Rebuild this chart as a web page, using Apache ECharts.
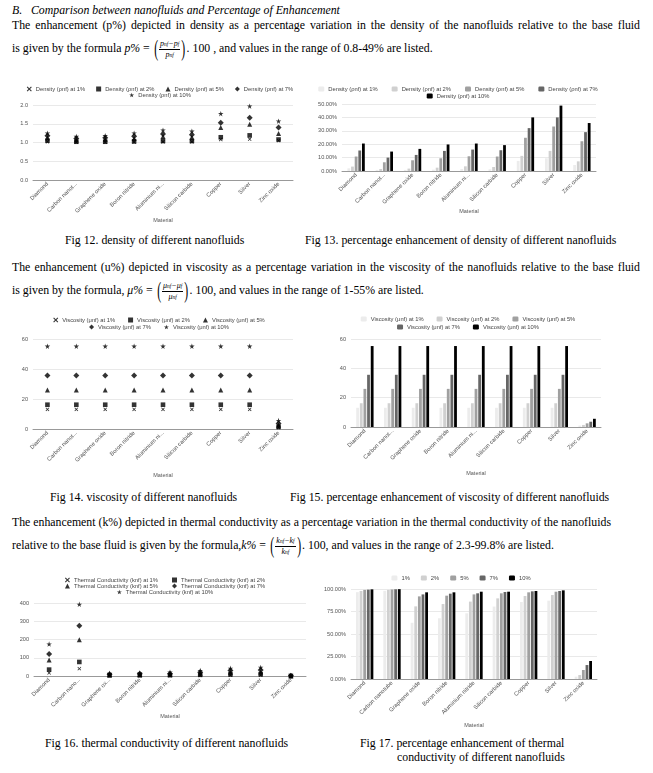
<!DOCTYPE html>
<html><head><meta charset="utf-8">
<script src="https://cdn.jsdelivr.net/npm/echarts/dist/echarts.min.js"></script>
<style>
html,body{margin:0;padding:0;background:#fff;}
body{width:653px;height:773px;position:relative;overflow:hidden;}
.t{position:absolute;font-family:'Liberation Serif','Times New Roman','DejaVu Serif',serif;font-size:11.8px;color:#000;white-space:nowrap;line-height:14px;}
.it{font-style:italic;}
.m{font-style:italic;}
.paren{display:inline-block;transform:scale(0.9,1.75);vertical-align:middle;font-size:13px;margin:0 1px;}
.frac{display:inline-block;vertical-align:middle;text-align:center;font-size:8px;line-height:9px;font-style:italic;}
.frac .num{display:block;border-bottom:0.8px solid #000;padding:0 1px;}
.frac .den{display:block;}
.frac i{font-size:5.5px;font-style:italic;}
.ch{position:absolute;}
</style></head>
<body>
<div class="t it" style="left:12px;top:3px;font-size:11.8px;">B.&nbsp;&nbsp;&nbsp;Comparison between nanofluids and Percentage of Enhancement</div>
<div class="t j" data-w="628" style="left:12px;top:18px;">The enhancement (p%) depicted in density as a percentage variation in the density of the nanofluids relative to the base fluid</div>
<div class="t" style="left:12px;top:37px;line-height:22px;">is given by the formula <span class="m">p%</span> = <span class="paren">(</span><span class="frac"><span class="num">p<i>nf</i>−p<i>f</i></span><span class="den">p<i>nf</i></span></span><span class="paren">)</span>. 100 , and values in the range of 0.8-49% are listed.</div>

<div class="t" style="left:65px;top:233px;">Fig 12. density of different nanofluids</div>
<div class="t" style="left:305px;top:233px;">Fig 13. percentage enhancement of density of different nanofluids</div>

<div class="t j" data-w="628" style="left:12px;top:260px;">The enhancement (u%) depicted in viscosity as a percentage variation in the viscosity of the nanofluids relative to the base fluid</div>
<div class="t" style="left:12px;top:279px;line-height:22px;">is given by the formula, <span class="m">μ%</span> = <span class="paren">(</span><span class="frac"><span class="num">μ<i>nf</i>−μ<i>f</i></span><span class="den">μ<i>nf</i></span></span><span class="paren">)</span>. 100, and values in the range of 1-55% are listed.</div>

<div class="t" style="left:50px;top:490px;">Fig 14. viscosity of different nanofluids</div>
<div class="t" style="left:290px;top:490px;">Fig 15. percentage enhancement of viscosity of different nanofluids</div>

<div class="t j" data-w="599" style="left:12px;top:515px;">The enhancement (k%) depicted in thermal conductivity as a percentage variation in the thermal conductivity of the nanofluids</div>
<div class="t" style="left:12px;top:534px;line-height:22px;">relative to the base fluid is given by the formula,<span class="m">k%</span> = <span class="paren">(</span><span class="frac"><span class="num">k<i>nf</i>−k<i>f</i></span><span class="den">k<i>nf</i></span></span><span class="paren">)</span>. 100, and values in the range of 2.3-99.8% are listed.</div>

<div class="t" style="left:45px;top:736px;">Fig 16. thermal conductivity of different nanofluids</div>
<div class="t" style="left:360px;top:736px;">Fig 17. percentage enhancement of thermal</div>
<div class="t" style="left:397px;top:750px;">conductivity of different nanofluids</div>

<div id="c12" class="ch" style="left:0px;top:80px;width:320px;height:150px;"></div>
<div id="c13" class="ch" style="left:300px;top:80px;width:316px;height:150px;"></div>
<div id="c14" class="ch" style="left:0px;top:310px;width:318px;height:180px;"></div>
<div id="c15" class="ch" style="left:300px;top:310px;width:336px;height:180px;"></div>
<div id="c16" class="ch" style="left:0px;top:570px;width:330px;height:165px;"></div>
<div id="c17" class="ch" style="left:300px;top:570px;width:322px;height:165px;"></div>

<script>
// justify single lines by word spacing
document.querySelectorAll('.j').forEach(el => {
  const target = +el.dataset.w;
  const w = el.getBoundingClientRect().width;
  const spaces = (el.textContent.match(/ /g) || []).length;
  el.style.wordSpacing = ((target - w) / spaces) + 'px';
});

// ---------- DATA ----------
const catsShort = ['Diamond','Carbon nanot...','Graphene oxide','Boron nitride','Aluminium ni...','Silicon carbide','Copper','Silver','Zinc oxide'];
const catsThermal = ['Diamond','Carbon nano...','Graphene ox...','Boron nitride','Aluminium ni...','Silicon carbide','Copper','Silver','Zinc oxide'];
const catsFull = ['Diamond','Carbon nanotube','Graphene oxide','Boron nitride','Aluminium nitride','Silicon carbide','Copper','Silver','Zinc oxide'];

const densityNames = ['Density (ρnf) at 1%','Density (ρnf) at 2%','Density (ρnf) at 5%','Density (ρnf) at 7%','Density (ρnf) at 10%'];
const density1  = [1.02, 1.01, 1.01, 1.01, 1.02, 1.02, 1.08, 1.09, 1.05];
const density2  = [1.05, 1.02, 1.02, 1.03, 1.04, 1.04, 1.14, 1.19, 1.08];
const density5  = [1.13, 1.07, 1.09, 1.11, 1.16, 1.14, 1.40, 1.49, 1.24];
const density7  = [1.18, 1.11, 1.13, 1.17, 1.23, 1.21, 1.53, 1.66, 1.40];
const density10 = [1.25, 1.16, 1.18, 1.25, 1.33, 1.30, 1.77, 1.97, 1.57];

const densPct1  = [2.0, 0.8, 0.8, 1.0, 1.5, 1.3, 7.5, 9.5, 4.5];
const densPct2  = [3.3, 1.5, 1.8, 2.5, 3.5, 3.0, 11.3, 15.0, 7.2];
const densPct5  = [10.8, 6.5, 8.0, 9.5, 11.0, 10.8, 24.8, 33.2, 22.2];
const densPct7  = [15.3, 10.0, 12.0, 15.0, 16.0, 15.5, 32.0, 40.0, 29.0];
const densPct10 = [20.5, 14.5, 16.5, 19.8, 20.5, 19.3, 40.0, 48.8, 35.8];

const viscNames = ['Viscosity (μnf) at 1%','Viscosity (μnf) at 2%','Viscosity (μnf) at 5%','Viscosity (μnf) at 7%','Viscosity (μnf) at 10%'];
const visc1  = [13.1, 13.1, 13.1, 13.1, 13.1, 13.1, 13.1, 13.1, 1.0];
const visc2  = [16.2, 16.2, 16.2, 16.2, 16.2, 16.2, 16.2, 16.2, 1.4];
const visc5  = [26.0, 26.0, 26.0, 26.0, 26.0, 26.0, 26.0, 26.0, 2.5];
const visc7  = [35.6, 35.6, 35.6, 35.6, 35.6, 35.6, 35.6, 35.6, 3.6];
const visc10 = [55.2, 55.2, 55.2, 55.2, 55.2, 55.2, 55.2, 55.2, 5.6];

const thermNames = ['Thermal Conductivity (knf) at 1%','Thermal Conductivity (knf) at 2%','Thermal Conductivity (knf) at 5%','Thermal Conductivity (knf) at 7%','Thermal Conductivity (knf) at 10%'];
const therm1  = [17, 40, 1.6, 1.8, 2.2, 3.5, 5, 5, 0.6];
const therm2  = [35, 77, 3.2, 3.5, 4.3, 6.5, 9, 10, 0.63];
const therm5  = [87, 198, 7.5, 8.6, 10, 15, 20, 22, 0.67];
const therm7  = [120, 275, 10, 12, 13, 21, 30, 33, 0.71];
const therm10 = [175, 393, 15, 17, 21, 30, 42, 47, 0.75];

const pctNames = ['1%','2%','5%','7%','10%'];
const thermPct1  = [96.5, 98.0, 62.5, 67.5, 73.0, 80.5, 85.6, 87.0, 2.6];
const thermPct2  = [97.8, 99.0, 80.7, 83.3, 86.0, 89.6, 92.2, 93.3, 4.4];
const thermPct5  = [99.0, 99.5, 91.8, 92.6, 94.0, 95.2, 96.3, 97.0, 10.0];
const thermPct7  = [99.3, 99.7, 94.0, 94.8, 95.2, 96.7, 97.4, 97.8, 15.5];
const thermPct10 = [99.6, 99.8, 96.3, 96.3, 97.0, 97.0, 97.8, 98.5, 20.0];

// ---------- STYLE ----------
const crossPath = 'path://M0,15 L15,0 L50,35 L85,0 L100,15 L65,50 L100,85 L85,100 L50,65 L15,100 L0,85 L35,50 Z';
const starPath = 'path://M50,0 L61,35 L98,35 L68,57 L79,91 L50,70 L21,91 L32,57 L2,35 L39,35 Z';
const symbols = [crossPath, 'rect', 'triangle', 'diamond', starPath];
const symSizes = [3.8, 4.6, 5, 6, 5.5];
const barColors = ['#ececec', '#d0d0d0', '#a0a0a0', '#666666', '#000000'];
const FONT = 'Arial, "Liberation Sans", sans-serif';

function legends(rows, tops, fs, iw, ih, gap) {
  return rows.map((r, i) => ({
    data: r, top: tops[i], left: 'center', itemWidth: iw, itemHeight: ih, itemGap: gap,
    padding: 0, selectedMode: false,
    textStyle: { fontSize: fs, color: '#444', fontFamily: FONT, padding: [0, 0, 0, -1] }
  }));
}

function axes(cats, cfg) {
  return {
    xAxis: {
      type: 'category', data: cats, name: 'Material', nameLocation: 'middle', nameGap: cfg.nameGap,
      nameTextStyle: { fontSize: 5.5, color: '#555', fontFamily: FONT },
      axisLine: { lineStyle: { color: '#999', width: 1 } }, axisTick: { show: false },
      axisLabel: { rotate: 45, fontSize: 5.8, color: '#555', fontFamily: FONT, margin: 3, interval: 0 }
    },
    yAxis: {
      type: 'value', min: cfg.min, max: cfg.max, interval: cfg.interval,
      axisLine: { show: false }, axisTick: { show: false },
      splitLine: { lineStyle: { color: '#e3e3e3', width: 0.8 } },
      axisLabel: { fontSize: 5.6, color: '#555', fontFamily: FONT, margin: 5, formatter: cfg.fmt }
    }
  };
}

function scatterChart(id, cats, names, series, cfg) {
  const ch = echarts.init(document.getElementById(id), null, { renderer: 'canvas' });
  const a = axes(cats, cfg);
  ch.setOption({
    animation: false,
    legend: legends(cfg.rows, cfg.tops, cfg.lfs, 5, 5, cfg.gap),
    grid: cfg.grid,
    xAxis: a.xAxis, yAxis: a.yAxis,
    series: series.map((d, i) => ({
      type: 'scatter', name: names[i], data: d, symbol: symbols[i], symbolSize: symSizes[i],
      itemStyle: { color: '#000' }
    }))
  });
}

function barChart(id, cats, names, series, cfg) {
  const ch = echarts.init(document.getElementById(id), null, { renderer: 'canvas' });
  const a = axes(cats, cfg);
  ch.setOption({
    animation: false,
    legend: legends(cfg.rows, cfg.tops, cfg.lfs, 6, 5, cfg.gap),
    grid: cfg.grid,
    xAxis: a.xAxis, yAxis: a.yAxis,
    series: series.map((d, i) => ({
      type: 'bar', name: names[i], data: d, barWidth: 2.8, barGap: '30%',
      itemStyle: { color: barColors[i] }
    }))
  });
}

const fmt1 = v => v.toFixed(1);
const fmtPct = v => v.toFixed(2) + '%';
const fmtInt = v => String(v);

scatterChart('c12', catsShort, densityNames, [density1, density2, density5, density7, density10], {
  min: 0, max: 2, interval: 0.5, fmt: fmt1, nameGap: 36,
  grid: { left: 33, right: 27, top: 25, bottom: 50 },
  rows: [densityNames.slice(0, 4), densityNames.slice(4)], tops: [6, 12], lfs: 5.8, gap: 11
});

barChart('c13', catsShort, densityNames, [densPct1, densPct2, densPct5, densPct7, densPct10], {
  min: 0, max: 50, interval: 10, fmt: fmtPct, nameGap: 30,
  grid: { left: 42, right: 20, top: 24, bottom: 59 },
  rows: [densityNames.slice(0, 4), densityNames.slice(4)], tops: [6, 13], lfs: 5.8, gap: 14
});

scatterChart('c14', catsShort, viscNames, [visc1, visc2, visc5, visc7, visc10], {
  min: 0, max: 60, interval: 20, fmt: fmtInt, nameGap: 43,
  grid: { left: 33, right: 25, top: 29, bottom: 61 },
  rows: [viscNames.slice(0, 3), viscNames.slice(3)], tops: [7, 14], lfs: 5.8, gap: 13
});

barChart('c15', catsShort, viscNames, [visc1, visc2, visc5, visc7, visc10], {
  min: 0, max: 60, interval: 20, fmt: fmtInt, nameGap: 43,
  grid: { left: 51, right: 35, top: 29, bottom: 63 },
  rows: [viscNames.slice(0, 3), viscNames.slice(3)], tops: [6, 14], lfs: 5.8, gap: 13
});

scatterChart('c16', catsThermal, thermNames, [therm1, therm2, therm5, therm7, therm10], {
  min: 0, max: 400, interval: 100, fmt: fmtInt, nameGap: 37,
  grid: { left: 34, right: 24, top: 33, bottom: 59 },
  rows: [thermNames.slice(0, 2), thermNames.slice(2, 4), thermNames.slice(4)], tops: [7, 13, 19], lfs: 5.8, gap: 14
});

barChart('c17', catsFull, pctNames, [thermPct1, thermPct2, thermPct5, thermPct7, thermPct10], {
  min: 0, max: 100, interval: 25, fmt: fmtPct, nameGap: 43,
  grid: { left: 51, right: 25, top: 19, bottom: 56 },
  rows: [pctNames], tops: [5], lfs: 5.8, gap: 11
});
</script>
</body></html>
